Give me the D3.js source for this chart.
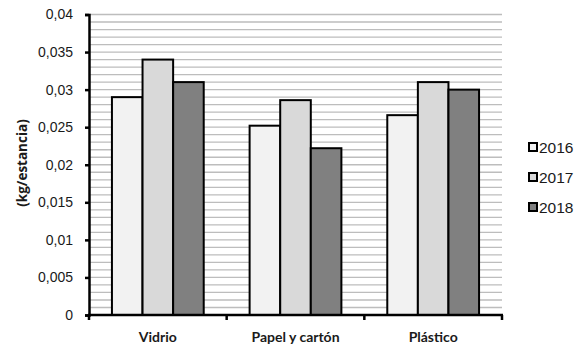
<!DOCTYPE html>
<html><head><meta charset="utf-8">
<script src="https://cdn.jsdelivr.net/npm/d3@7"></script>
<style>html,body{margin:0;padding:0;background:#fff;}svg{display:block;}</style>
</head><body>
<script>
const categories = ["Vidrio", "Papel y cartón", "Plástico"];
const years = ["2016", "2017", "2018"];
const values2016 = [0.029, 0.0252, 0.0266];
const values2017 = [0.034, 0.0286, 0.031];
const values2018 = [0.031, 0.0222, 0.030];
const yTicks = [0, 0.005, 0.01, 0.015, 0.02, 0.025, 0.03, 0.035, 0.04];
const yTickLabels = ["0", "0,005", "0,01", "0,015", "0,02", "0,025", "0,03", "0,035", "0,04"];
const yAxisTitle = "(kg/estancia)";
const colors = ["#f2f2f2", "#d9d9d9", "#808080"];

(function () {
const series = [values2016, values2017, values2018];
const W = 579, H = 346;
const svg = d3.select("body").append("svg").attr("width", W).attr("height", H);

const mLeft = 89, mRight = 502, mTop = 14.5, mBottom = 315;
const y = d3.scaleLinear().domain([0, 0.04]).range([mBottom, mTop]);
const x0 = d3.scaleBand().domain(categories).range([mLeft, mRight]).paddingInner(0).paddingOuter(0);
const x1 = d3.scaleBand().domain(years).range([0, x0.bandwidth()]).paddingInner(0).paddingOuter(0.75);

// minor gridlines every 0.001
const grid = d3.range(1, 41).map(i => i / 1000);
svg.append("g").selectAll("line").data(grid).join("line")
  .attr("x1", mLeft).attr("x2", mRight)
  .attr("y1", d => y(d)).attr("y2", d => y(d))
  .attr("stroke", "#bdbdbd").attr("stroke-width", 1.3);

// bars
const g = svg.append("g");
categories.forEach((c, ci) => {
  years.forEach((yr, si) => {
    g.append("rect")
      .attr("x", x0(c) + x1(yr))
      .attr("y", y(series[si][ci]))
      .attr("width", x1.bandwidth())
      .attr("height", y(0) - y(series[si][ci]))
      .attr("fill", colors[si])
      .attr("stroke", "#000").attr("stroke-width", 2);
  });
});

// y axis
const yAxis = d3.axisLeft(y).tickValues(yTicks)
  .tickFormat((d, i) => yTickLabels[i]).tickSize(4).tickPadding(12);
const ya = svg.append("g").attr("transform", `translate(${mLeft},0)`).call(yAxis);
ya.select(".domain").attr("stroke", "#000").attr("stroke-width", 2.5);
ya.selectAll(".tick line").attr("stroke", "#000").attr("stroke-width", 2.5);
ya.selectAll(".tick text").attr("font-family", "'Liberation Sans', Arial, sans-serif")
  .attr("font-size", 14).attr("fill", "#1a1a1a");

// x axis
const xa = svg.append("g").attr("transform", `translate(0,${mBottom})`);
xa.append("line").attr("x1", mLeft - 1).attr("x2", mRight + 1).attr("y1", 0).attr("y2", 0)
  .attr("stroke", "#000").attr("stroke-width", 2.5);
const bounds = categories.map(c => x0(c)).concat([x0(categories[categories.length - 1]) + x0.bandwidth()]);
xa.selectAll("line.tk").data(bounds).join("line").attr("class", "tk")
  .attr("x1", d => d).attr("x2", d => d).attr("y1", 0).attr("y2", 5)
  .attr("stroke", "#000").attr("stroke-width", 2.5);
xa.selectAll("text").data(categories).join("text")
  .attr("x", d => x0(d) + x0.bandwidth() / 2).attr("y", 27)
  .attr("text-anchor", "middle")
  .attr("font-family", "Lato, sans-serif").attr("font-weight", "bold")
  .attr("font-size", 14).attr("fill", "#1a1a1a").text(d => d);

// y title
svg.append("text").attr("transform", `translate(22,163) rotate(-90)`)
  .attr("text-anchor", "middle").attr("dominant-baseline", "central")
  .attr("font-family", "'Open Sans', sans-serif").attr("font-weight", "bold")
  .attr("font-size", 13.5).attr("fill", "#1a1a1a").text(yAxisTitle);

// legend
const lg = svg.append("g");
years.forEach((yr, i) => {
  const cy = 147 + i * 30;
  lg.append("rect").attr("x", 529).attr("y", cy - 4).attr("width", 8).attr("height", 8)
    .attr("fill", colors[i]).attr("stroke", "#000").attr("stroke-width", 2);
  lg.append("text").attr("x", 539).attr("y", cy).attr("dominant-baseline", "central")
    .attr("font-family", "'Liberation Sans', Arial, sans-serif").attr("font-size", 15.5)
    .attr("fill", "#1a1a1a").text(yr);
});
})();
</script>
</body></html>
